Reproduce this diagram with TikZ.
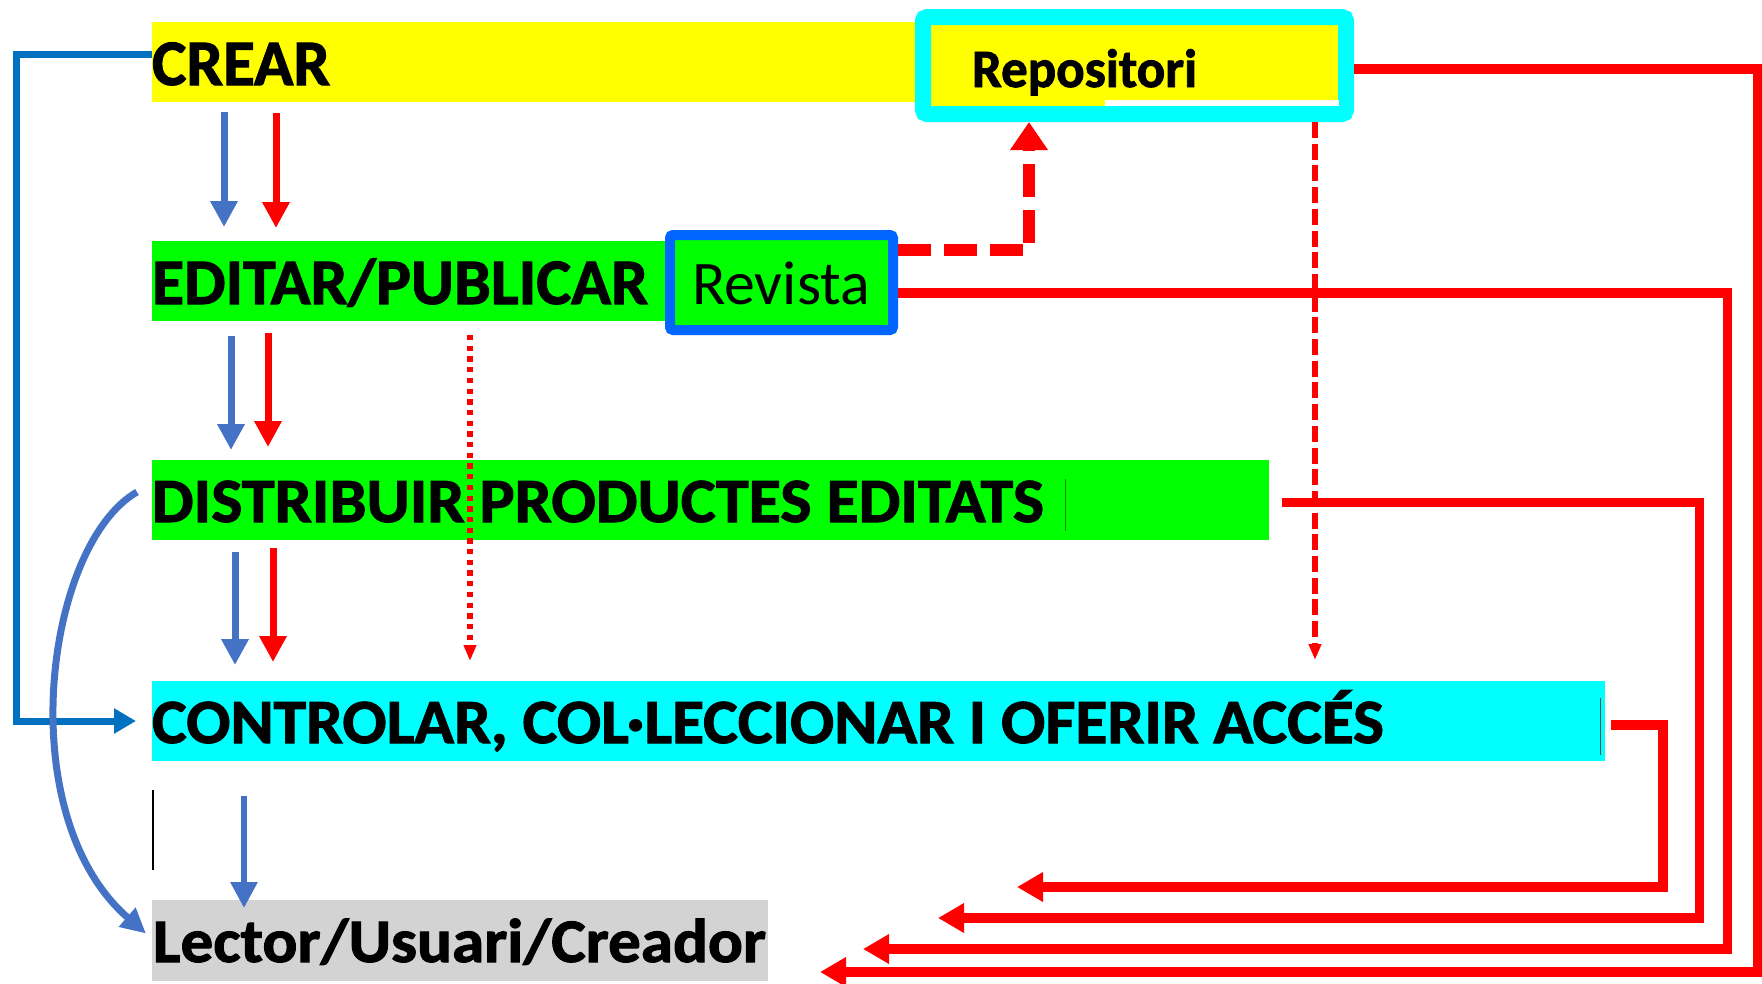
\documentclass[tikz,border=0pt]{standalone}
\usepackage{graphicx}
\usepackage{fontspec}
\setmainfont{Carlito}
\newfontfamily\heavy{Carlito Bold}[FakeBold=1.6]
\usetikzlibrary{arrows.meta,calc}
\newcommand\mkfit[2]{\resizebox{#1}{\height}{#2}}
\definecolor{myyellow}{HTML}{FFFF00}
\definecolor{mygreen}{HTML}{00FF00}
\definecolor{mycyan}{HTML}{00FFFF}
\definecolor{mygray}{HTML}{D3D3D3}
\definecolor{arrblue}{HTML}{4472C4}
\definecolor{lineblue}{HTML}{0070C0}
\definecolor{boxblue}{HTML}{0066FF}
\definecolor{myred}{HTML}{FF0000}
\begin{document}
\begin{tikzpicture}[x=1pt,y=-1pt,
  band/.style={inner sep=0pt, outer sep=0pt, anchor=north west, minimum height=80pt},
  txt/.style={inner sep=0pt, outer sep=0pt, anchor=base west},
  bdown/.style={draw=arrblue, line width=7pt, -{Triangle[length=26pt,width=26pt]}},
  rdown/.style={draw=myred, line width=7pt, -{Triangle[length=26pt,width=26pt]}},
  rline/.style={draw=myred, line width=9.5pt, -{Triangle[length=26pt,width=28pt]}},
  rdot/.style={draw=myred, line width=5.5pt, dash pattern=on 5.3pt off 5.4pt, -{Triangle[length=16pt,width=12pt]}},
  rdash/.style={draw=myred, line width=5.5pt, dash pattern=on 16pt off 5.7pt, -{Triangle[length=16pt,width=12pt]}},
]
\useasboundingbox (0,0) rectangle (1762,983);

% bands
\node[band, fill=myyellow, minimum width=768pt] (crear) at (152,22) {};
\node[band, fill=mygreen, minimum width=520pt] (editar) at (152,241) {};
\node[band, fill=mygreen, minimum width=1117pt] (distrib) at (152,460) {};
\node[band, fill=mycyan, minimum width=1453pt] (contr) at (152,681) {};
\node[band, fill=mygray, minimum width=616pt, minimum height=81pt] (lector) at (152,900) {};

% boxes
\node[draw=mycyan, line width=16pt, fill=myyellow, rounded corners=4pt, minimum width=423pt, minimum height=97pt, inner sep=0pt] (repos) at (1134.5,65.5) {};
\fill[white] (1105,100) rectangle (1339,106);
\node[draw=boxblue, line width=10pt, fill=mygreen, rounded corners=3pt, minimum width=223pt, minimum height=95pt, inner sep=0pt] (revista) at (781.5,282.5) {};

% texts
\node[txt] (tcrear) at (152,85) {\mkfit{178pt}{\fontsize{65}{65}\heavy CREAR}};
\node[txt] (teditar) at (152,304) {\mkfit{496pt}{\fontsize{65}{65}\heavy EDITAR/PUBLICAR}};
\node[txt] (tdistrib) at (152,522) {\mkfit{892pt}{\fontsize{63}{63}\heavy DISTRIBUIR PRODUCTES EDITATS}};
\node[txt] (tcontr) at (152,743) {\mkfit{1232pt}{\fontsize{63}{63}\heavy CONTROLAR, COL·LECCIONAR I OFERIR ACCÉS}};
\node[txt] (tlector) at (153,962) {\mkfit{613pt}{\fontsize{62}{62}\heavy Lector/Usuari/Creador}};
\node[txt] (trepos) at (972,87) {\mkfit{225pt}{\fontsize{54}{54}\heavy Repositori}};
\node[txt] (trevista) at (692,304) {\mkfit{178pt}{\fontsize{62}{62}\selectfont Revista}};

% cursor marks
\draw[line width=1.2pt, black] (153,790) -- (153,870);
\draw[line width=1pt, black!70] (1600,698) -- (1600,755);
\draw[line width=0.6pt, green!55!black] (1065,479) -- (1065,531);

% x positions
\coordinate (xb1) at (224,0);
\coordinate (xr1) at (276,0);
\coordinate (xb2) at (231,0);
\coordinate (xr2) at (268,0);
\coordinate (xb3) at (235,0);
\coordinate (xr3) at (273,0);
\coordinate (xb4) at (244,0);
\coordinate (xdot) at (470,0);
\coordinate (xdash) at (1315,0);
\coordinate (xup) at (1029,0);
\coordinate (xleft) at (16,0);

% down arrows
\draw[bdown, shorten <=10pt, shorten >=14pt] (crear.south -| xb1) -- (editar.north -| xb1);
\draw[rdown, shorten <=11pt, shorten >=13pt] (crear.south -| xr1) -- (editar.north -| xr1);
\draw[bdown, shorten <=15pt, shorten >=10pt] (editar.south -| xb2) -- (distrib.north -| xb2);
\draw[rdown, shorten <=12pt, shorten >=13pt] (editar.south -| xr2) -- (distrib.north -| xr2);
\draw[bdown, shorten <=12pt, shorten >=16pt] (distrib.south -| xb3) -- (contr.north -| xb3);
\draw[rdown, shorten <=8pt, shorten >=19pt] (distrib.south -| xr3) -- (contr.north -| xr3);
\draw[draw=arrblue, line width=6pt, -{Triangle[length=26pt,width=26pt]}, shorten <=35pt, shorten >=-8pt] (contr.south -| xb4) -- (lector.north -| xb4);

% dotted / dashed thin arrows
\draw[rdot, shorten <=14pt, shorten >=20pt] (editar.south -| xdot) -- (contr.north -| xdot);
\draw[rdash, shorten >=21pt] (repos.south -| xdash) -- (contr.north -| xdash);

% thick dashed from Revista to Repositori
\draw[draw=myred, line width=12pt, dash pattern=on 33pt off 13pt, -{Triangle[length=28pt,width=36pt]}]
  ([yshift=32.5pt]revista.east) -| (repos.south -| xup);

% left blue connector
\draw[draw=lineblue, line width=7pt, -{Triangle[length=22pt,width=24pt]}, shorten >=16pt]
  ([yshift=7.5pt]crear.west) -| (xleft |- contr.west) -- (contr.west);

% curved blue arrow
\draw[draw=arrblue, line width=7pt, -{Triangle[length=25pt,width=24pt]}]
  ([xshift=-15pt,yshift=8pt]distrib.west) .. controls +(-92,53) and +(-136,-118) .. ([xshift=-6pt,yshift=7pt]lector.west);

% red return lines
\coordinate (e1) at (820,972);  \coordinate (c1) at (1758,0);
\coordinate (e2) at (863,949);  \coordinate (c2) at (1727.5,0);
\coordinate (e3) at (938,918);  \coordinate (c3) at (1699.5,0);
\coordinate (e4) at (1017,887); \coordinate (c4) at (1663,0);
\draw[rline] ([yshift=-3.5pt]repos.east) -| (c1 |- e1) -- (e1);
\draw[rline] ([yshift=-10.5pt]revista.east) -| (c2 |- e2) -- (e2);
\draw[rline] ([xshift=13pt,yshift=-2.5pt]distrib.east) -| (c3 |- e3) -- (e3);
\draw[rline] ([xshift=6pt,yshift=-4pt]contr.east) -| (c4 |- e4) -- (e4);
\end{tikzpicture}
\end{document}
